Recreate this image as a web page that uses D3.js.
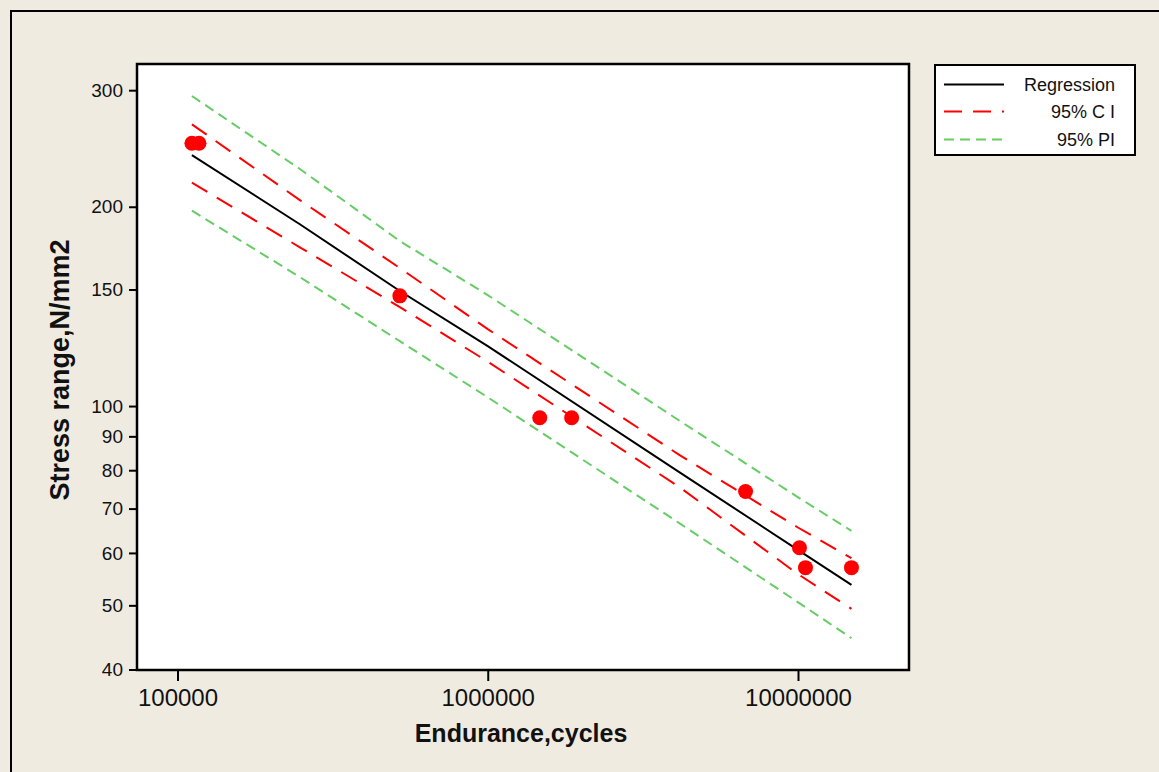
<!DOCTYPE html>
<html>
<head>
<meta charset="utf-8">
<script src="https://cdn.jsdelivr.net/npm/d3@7"></script>
<style>
  html, body { margin: 0; padding: 0; background: #EFEBE1; }
  svg { display: block; }
  text { font-family: "Liberation Sans", Arial, sans-serif; fill: #111; }
</style>
</head>
<body>
<svg id="chart" width="1159" height="772"></svg>
<script>
// Observed fatigue results: endurance (cycles) vs stress range (N/mm2)
const testCycles = [111300, 117300, 520800, 1471000, 1864000, 6776000, 10110000, 10570000, 14870000];
const testStress = [249.4, 249.4, 146.7, 96.0, 96.0, 74.3, 61.1, 57.0, 57.0];

// Fitted line and bands evaluated along the endurance range
const fitCycles  = [111300, 248000, 520800, 1000000, 4154000, 9960000, 14870000];
const regression = [239.4, 188.2, 149.2, 123.2, 79.4, 60.7, 53.7];
const ciUpper    = [266.4, 204.7, 161.6, 130.7, 84.3, 65.6, 58.9];
const ciLower    = [217.5, 173.7, 141.1, 116.7, 75.4, 55.8, 49.4];
const piUpper    = [294.0, 228.1, 177.5, 147.1, 95.0, 72.9, 64.8];
const piLower    = [197.3, 156.6, 125.3, 103.1, 66.5, 50.6, 44.6];

const xTicks = [100000, 1000000, 10000000];
const yTicks = [40, 50, 60, 70, 80, 90, 100, 150, 200, 300];

const legendItems = [
  { label: "Regression", color: "#000000", dash: null, width: 2 },
  { label: "95% C I",    color: "#FF0000", dash: "18,11", width: 2 },
  { label: "95% PI",     color: "#66CC66", dash: "10,6", width: 2 }
];

const svg = d3.select("#chart");

// outer panel frame (only its top and left edges fall inside the view)
svg.append("rect")
  .attr("x", 11).attr("y", 11)
  .attr("width", 1200).attr("height", 800)
  .attr("fill", "#EFEBE1").attr("stroke", "#000").attr("stroke-width", 2);

const plot = { left: 137, right: 909, top: 64, bottom: 670 };

const x = d3.scaleLog()
  .domain([74050, 22790000])
  .range([plot.left, plot.right]);
const y = d3.scaleLog()
  .domain([39.93, 328.6])
  .range([plot.bottom, plot.top]);

// data region
svg.append("rect")
  .attr("x", plot.left).attr("y", plot.top)
  .attr("width", plot.right - plot.left).attr("height", plot.bottom - plot.top)
  .attr("fill", "#fff");

svg.append("clipPath").attr("id", "clip")
  .append("rect")
  .attr("x", plot.left).attr("y", plot.top)
  .attr("width", plot.right - plot.left).attr("height", plot.bottom - plot.top);

const g = svg.append("g").attr("clip-path", "url(#clip)");

const line = d3.line()
  .x(d => x(d[0]))
  .y(d => y(d[1]));

function series(values) {
  return fitCycles.map((c, i) => [c, values[i]]);
}

// prediction interval
[piUpper, piLower].forEach(v => {
  g.append("path")
    .attr("d", line(series(v)))
    .attr("fill", "none")
    .attr("stroke", "#66CC66")
    .attr("stroke-width", 2)
    .attr("stroke-dasharray", "10,6");
});

// confidence interval
[ciUpper, ciLower].forEach(v => {
  g.append("path")
    .attr("d", line(series(v)))
    .attr("fill", "none")
    .attr("stroke", "#FF0000")
    .attr("stroke-width", 2)
    .attr("stroke-dasharray", "18,11");
});

// regression line
g.append("path")
  .attr("d", line(series(regression)))
  .attr("fill", "none")
  .attr("stroke", "#000")
  .attr("stroke-width", 2);

// test points
g.selectAll("circle.pt")
  .data(testCycles.map((c, i) => [c, testStress[i]]))
  .join("circle")
  .attr("class", "pt")
  .attr("cx", d => x(d[0]))
  .attr("cy", d => y(d[1]))
  .attr("r", 7.5)
  .attr("fill", "#FF0000");

// axes
const xAxis = d3.axisBottom(x)
  .tickValues(xTicks)
  .tickFormat(d3.format("d"))
  .tickSize(11)
  .tickPadding(8);
const xg = svg.append("g")
  .attr("transform", `translate(0,${plot.bottom})`)
  .call(xAxis);
xg.select(".domain").remove();
xg.selectAll(".tick line").attr("stroke", "#000").attr("stroke-width", 2);
xg.selectAll(".tick text")
  .attr("font-family", "Liberation Sans, Arial, sans-serif")
  .attr("font-size", 24)
  .attr("fill", "#111");

const yAxis = d3.axisLeft(y)
  .tickValues(yTicks)
  .tickFormat(d3.format("d"))
  .tickSize(8)
  .tickPadding(6);
const yg = svg.append("g")
  .attr("transform", `translate(${plot.left},0)`)
  .call(yAxis);
yg.select(".domain").remove();
yg.selectAll(".tick line").attr("stroke", "#000").attr("stroke-width", 2);
yg.selectAll(".tick text")
  .attr("font-family", "Liberation Sans, Arial, sans-serif")
  .attr("font-size", 19)
  .attr("fill", "#111");

// plot frame
svg.append("rect")
  .attr("x", plot.left).attr("y", plot.top)
  .attr("width", plot.right - plot.left).attr("height", plot.bottom - plot.top)
  .attr("fill", "none").attr("stroke", "#000").attr("stroke-width", 2.5);

// axis titles
svg.append("text")
  .attr("x", 521).attr("y", 742)
  .attr("text-anchor", "middle")
  .attr("font-weight", "bold")
  .attr("font-size", 25)
  .text("Endurance,cycles");

svg.append("text")
  .attr("transform", "translate(69,370) rotate(-90)")
  .attr("text-anchor", "middle")
  .attr("font-weight", "bold")
  .attr("font-size", 27)
  .text("Stress range,N/mm2");

// legend
const lg = svg.append("g");
lg.append("rect")
  .attr("x", 935).attr("y", 65)
  .attr("width", 200).attr("height", 90)
  .attr("fill", "#fff").attr("stroke", "#000").attr("stroke-width", 2);

const rowY = [84.5, 111.5, 139.5];
legendItems.forEach((item, i) => {
  lg.append("line")
    .attr("x1", 944).attr("x2", 1004)
    .attr("y1", rowY[i]).attr("y2", rowY[i])
    .attr("stroke", item.color)
    .attr("stroke-width", item.width)
    .attr("stroke-dasharray", item.dash);
  lg.append("text")
    .attr("x", 1115).attr("y", rowY[i] + 6.5)
    .attr("text-anchor", "end")
    .attr("font-size", 18)
    .text(item.label);
});
</script>
</body>
</html>
